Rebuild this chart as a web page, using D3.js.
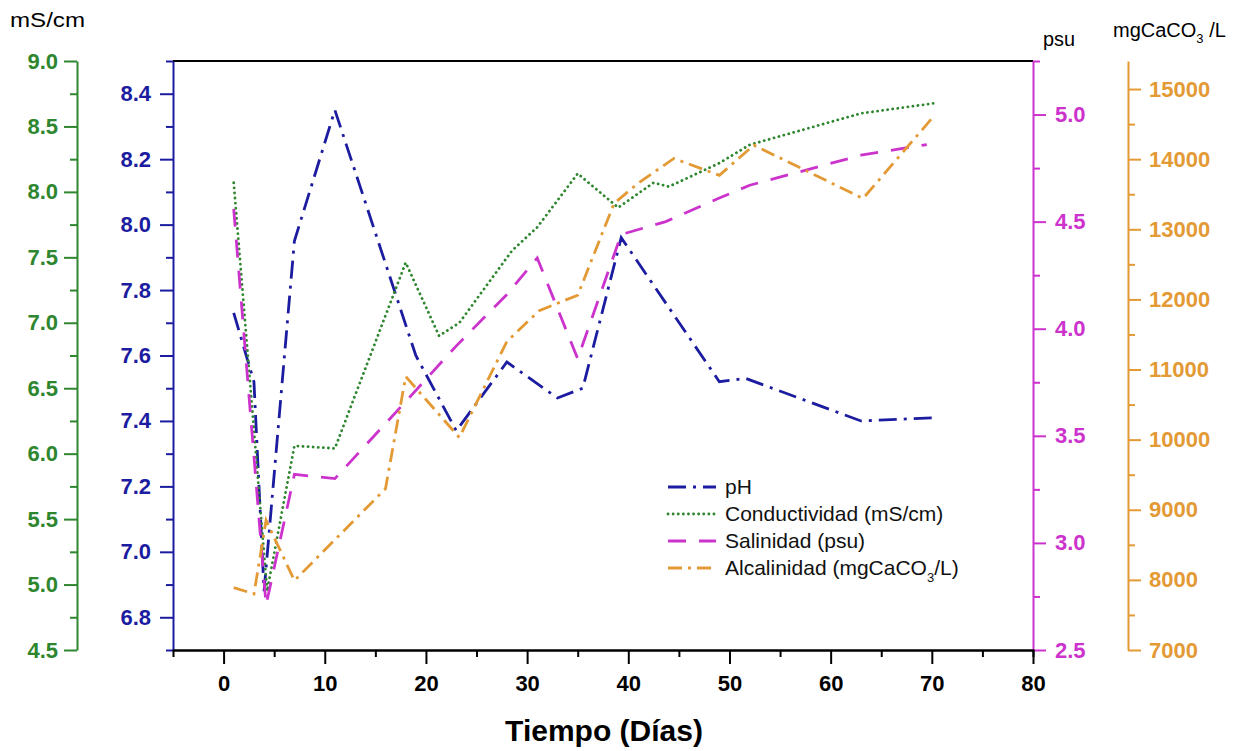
<!DOCTYPE html>
<html>
<head>
<meta charset="utf-8">
<script src="https://cdn.jsdelivr.net/npm/d3@7"></script>
<style>
  body { margin: 0; background: #fff; }
  svg { display: block; font-family: "Liberation Sans", Arial, sans-serif; }
</style>
</head>
<body>
<svg width="1249" height="751"></svg>
<script>
// Data.
const phDays = [1, 3, 4, 7, 11, 19, 23, 28, 33, 35.5, 39.3, 49, 51.6, 63, 70.5];
const phVals = [7.73, 7.52, 6.88, 7.95, 8.35, 7.60, 7.37, 7.58, 7.47, 7.50, 7.96, 7.52, 7.53, 7.40, 7.41];

const condDays = [1, 4.3, 7, 11, 18, 21.3, 23.3, 28.5, 31, 35, 39, 42.5, 44, 49, 52, 63, 70.5];
const condVals = [8.07, 4.95, 6.06, 6.04, 7.46, 6.90, 7.00, 7.55, 7.73, 8.14, 7.88, 8.07, 8.04, 8.22, 8.36, 8.60, 8.68];

const salDays = [1, 4.2, 7, 11, 18, 23, 28, 31, 35, 39.3, 43.7, 49, 52, 63, 69.5];
const salVals = [4.56, 2.71, 3.32, 3.30, 3.66, 3.92, 4.16, 4.33, 3.86, 4.44, 4.50, 4.61, 4.67, 4.81, 4.86];

const alkDays = [1, 3, 4.2, 7, 16, 18, 23.3, 28, 31.2, 35, 38.6, 41, 44.5, 49, 52.4, 63.2, 70.3];
const alkVals = [7890, 7800, 8850, 7990, 9300, 10900, 10030, 11400, 11840, 12060, 13370, 13660, 14010, 13770, 14200, 13440, 14630];

const xTicks = [0, 10, 20, 30, 40, 50, 60, 70, 80];
const legendLabels = ["pH", "Conductividad (mS/cm)", "Salinidad (psu)", "Alcalinidad (mgCaCO"];

// Colours
const cBlue = "#1c1ca0";
const cGreen = "#2e862e";
const cMag = "#cc33cc";
const cOrange = "#e39a35";

const svg = d3.select("svg");
const plotLeft = 173, plotRight = 1033, plotTop = 61, plotBottom = 650;

// Scales
const x = d3.scaleLinear().domain([-5, 80]).range([plotLeft, plotRight]);
const yPh = d3.scaleLinear().domain([6.7, 8.5]).range([plotBottom, plotTop]);
const yCond = d3.scaleLinear().domain([4.5, 9.0]).range([plotBottom, plotTop]);
const ySal = d3.scaleLinear().domain([2.5, 5.25]).range([plotBottom, plotTop]);
const yAlk = d3.scaleLinear().domain([7000, 15400]).range([plotBottom, plotTop]);

// Top frame line
svg.append("line")
   .attr("x1", plotLeft).attr("x2", plotRight)
   .attr("y1", plotTop).attr("y2", plotTop)
   .attr("stroke", "#000").attr("stroke-width", 2);

// helper to draw a vertical axis with major + minor ticks
function drawAxis(axisFn, scale, xPos, major, minor, color, fmt, pad) {
    const g = svg.append("g").attr("transform", `translate(${xPos},0)`);
    g.call(axisFn(scale).tickValues(minor).tickSize(7).tickFormat(""))
     .call(s => s.select(".domain").remove());
    const gm = svg.append("g").attr("transform", `translate(${xPos},0)`);
    gm.call(axisFn(scale).tickValues(major).tickSize(13).tickPadding(pad).tickFormat(fmt).tickSizeOuter(0));
    [g, gm].forEach(s => {
        s.selectAll("line, path").attr("stroke", color).attr("stroke-width", 2);
        s.selectAll("text")
         .attr("fill", color)
         .style("font-size", "22px")
         .style("font-weight", "bold")
         .style("font-family", "'Liberation Sans', Arial, sans-serif");
    });
    return gm;
}

// Green (conductivity) axis, far left
drawAxis(d3.axisLeft, yCond, 77,
         d3.range(4.5, 9.01, 0.5), d3.range(4.75, 9.0, 0.5), cGreen, d3.format(".1f"), 6);
// Blue (pH) axis
drawAxis(d3.axisLeft, yPh, plotLeft,
         d3.range(6.8, 8.41, 0.2), d3.range(6.7, 8.51, 0.2), cBlue, d3.format(".1f"), 9);
// Magenta (salinity) axis
drawAxis(d3.axisRight, ySal, plotRight,
         d3.range(2.5, 5.01, 0.5), d3.range(2.75, 5.26, 0.5), cMag, d3.format(".1f"), 9);
// Orange (alkalinity) axis
drawAxis(d3.axisRight, yAlk, 1128,
         d3.range(7000, 15001, 1000), d3.range(7500, 15401, 1000), cOrange, d3.format("d"), 8);

// Bottom X axis
const gx = svg.append("g").attr("transform", `translate(0,${plotBottom})`);
gx.call(d3.axisBottom(x).tickValues(d3.range(5, 80, 10)).tickSize(7).tickFormat(""));
const gxm = svg.append("g").attr("transform", `translate(0,${plotBottom})`);
gxm.call(d3.axisBottom(x).tickValues(xTicks).tickSize(14).tickPadding(11).tickSizeOuter(0));
[gx, gxm].forEach(s => s.selectAll("line, path").attr("stroke", "#000").attr("stroke-width", 2));
gxm.selectAll("text")
   .attr("fill", "#000")
   .style("font-size", "22px")
   .style("font-weight", "bold")
   .style("font-family", "'Liberation Sans', Arial, sans-serif");

// Axis titles
svg.append("text").attr("x", 604).attr("y", 741).attr("text-anchor", "middle")
   .style("font-size", "30px").style("font-weight", "bold")
   .text("Tiempo (Días)");
svg.append("text").attr("x", 10).attr("y", 27).style("font-size", "20px")
   .attr("textLength", 75).attr("lengthAdjust", "spacingAndGlyphs").text("mS/cm");
svg.append("text").attr("x", 1043).attr("y", 46).style("font-size", "20px")
   .attr("textLength", 32).attr("lengthAdjust", "spacingAndGlyphs").text("psu");
const tAlk = svg.append("text").attr("x", 1113).attr("y", 37).style("font-size", "20px");
tAlk.append("tspan").text("mgCaCO");
tAlk.append("tspan").attr("dy", 6).style("font-size", "13px").text("3");
tAlk.append("tspan").attr("dy", -6).text(" /L");

// Series
const series = [
    { days: phDays, vals: phVals, y: yPh, color: cBlue, dash: "18,7,3,7", w: 2.8, cap: "butt" },
    { days: condDays, vals: condVals, y: yCond, color: cGreen, dash: "0.1,5", w: 2.8, cap: "round" },
    { days: salDays, vals: salVals, y: ySal, color: cMag, dash: "18,13", w: 2.8, cap: "butt" },
    { days: alkDays, vals: alkVals, y: yAlk, color: cOrange, dash: "14,6,3,6", w: 2.8, cap: "butt" }
];

series.forEach(s => {
    const line = d3.line().x(d => x(d[0])).y(d => s.y(d[1]));
    svg.append("path")
       .datum(d3.zip(s.days, s.vals))
       .attr("fill", "none")
       .attr("stroke", s.color)
       .attr("stroke-width", s.w)
       .attr("stroke-dasharray", s.dash)
       .attr("stroke-linecap", s.cap)
       .attr("d", line);
});

// Legend
const legend = svg.append("g").attr("transform", "translate(668,487)");
series.forEach((s, i) => {
    const row = legend.append("g").attr("transform", `translate(0,${i * 27})`);
    row.append("line")
       .attr("x1", 0).attr("x2", 48).attr("y1", 0).attr("y2", 0)
       .attr("stroke", s.color).attr("stroke-width", s.w)
       .attr("stroke-dasharray", s.dash).attr("stroke-linecap", s.cap);
    const t = row.append("text").attr("x", 57).attr("y", 7).style("font-size", "21px").attr("fill", "#111");
    t.append("tspan").text(legendLabels[i]);
    if (i === 3) {
        t.append("tspan").attr("dy", 7).style("font-size", "13px").text("3");
        t.append("tspan").attr("dy", -7).text("/L)");
    }
});
</script>
</body>
</html>
